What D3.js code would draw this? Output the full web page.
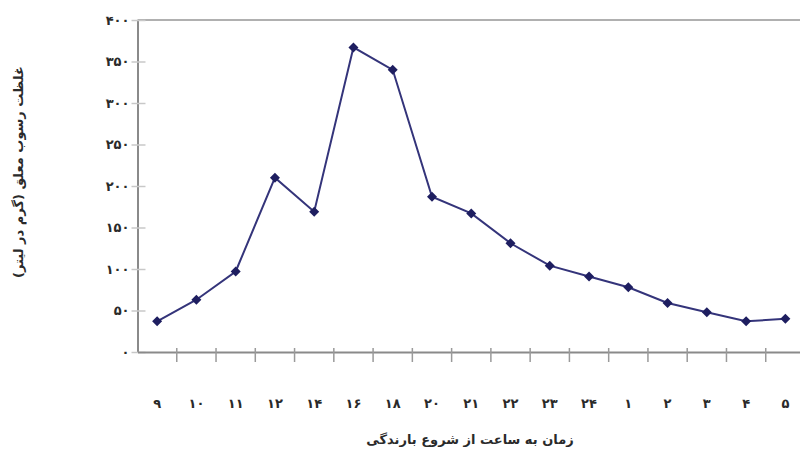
<!DOCTYPE html>
<html><head><meta charset="utf-8">
<script src="https://cdn.jsdelivr.net/npm/d3@7"></script>
<style>body{margin:0;background:#fff}svg{display:block}</style>
</head><body>
<svg id="c" width="800" height="462"></svg>
<script>
const categories = ["۹","۱۰","۱۱","۱۲","۱۴","۱۶","۱۸","۲۰","۲۱","۲۲","۲۳","۲۴","۱","۲","۳","۴","۵"];
const values = [37, 63, 97, 210, 169, 367, 340, 187, 167, 131, 104, 91, 78, 59, 48, 37, 40];
const yTicks = [0, 50, 100, 150, 200, 250, 300, 350, 400];
const yTickLabels = ["٠","۵٠","۱٠٠","۱۵٠","۲٠٠","۲۵٠","۳٠٠","۳۵٠","۴٠٠"];
const xTitle = "زمان به ساعت از شروع بارندگی";
const yTitle = "غلظت رسوب معلق (گرم در لیتر)";

const svg = d3.select("#c");
const m = {l:137.5, r:805, t:20, b:352};
const x = d3.scaleBand().domain(d3.range(categories.length)).range([m.l, m.r]).padding(0);
const y = d3.scaleLinear().domain([0,400]).range([m.b, m.t]);
const axisCol = "#8a8a8a";
const font = "'DejaVu Sans', sans-serif";

// top border
svg.append("line").attr("x1",m.l).attr("x2",800).attr("y1",m.t).attr("y2",m.t)
  .attr("stroke","#b0b0b0").attr("stroke-width",2);

// y axis
const ya = svg.append("g").attr("transform",`translate(${m.l},0)`)
  .call(d3.axisLeft(y).tickValues(yTicks).tickSize(0).tickFormat((d,i)=>yTickLabels[i]).tickPadding(8));
ya.select(".domain").attr("stroke",axisCol).attr("stroke-width",2);
ya.selectAll("text").attr("font-family",font).attr("font-weight","bold").attr("font-size",13).attr("fill","#2a2a2a");
ya.selectAll(".tick").append("line").attr("x1",-6).attr("x2",8).attr("stroke","#c8c8c8").attr("stroke-width",1.5);

// x axis
const xa = svg.append("g").attr("transform",`translate(0,${m.b})`)
  .call(d3.axisBottom(x).tickSize(0).tickFormat(i=>categories[i]).tickPadding(47));
xa.select(".domain").attr("stroke",axisCol).attr("stroke-width",2);
xa.selectAll("text").attr("font-family",font).attr("font-weight","bold").attr("font-size",13).attr("fill","#2a2a2a");
xa.selectAll(".tick").append("line")
  .attr("x1",x.bandwidth()/2).attr("x2",x.bandwidth()/2).attr("y1",-4).attr("y2",10)
  .attr("stroke","#9a9a9a").attr("stroke-width",1.5);

// line
const line = d3.line().x((d,i)=>x(i)+x.bandwidth()/2).y(d=>y(d));
svg.append("path").datum(values).attr("d",line).attr("fill","none")
  .attr("stroke","#34347a").attr("stroke-width",2);
svg.append("g").selectAll("path").data(values).join("path")
  .attr("transform",(d,i)=>`translate(${x(i)+x.bandwidth()/2},${y(d)}) rotate(45)`)
  .attr("d",d3.symbol(d3.symbolSquare,50)())
  .attr("fill","#1e1e60");

// titles
svg.append("text").attr("x",470).attr("y",444).attr("text-anchor","middle")
  .attr("font-family",font).attr("font-weight","bold").attr("font-size",13).attr("fill","#2a2a2a")
  .attr("direction","rtl").text(xTitle);
svg.append("text").attr("transform","translate(23,172) rotate(-90)").attr("text-anchor","middle")
  .attr("font-family",font).attr("font-weight","bold").attr("font-size",13).attr("fill","#2a2a2a")
  .attr("direction","rtl").text(yTitle);
</script>
</body></html>
